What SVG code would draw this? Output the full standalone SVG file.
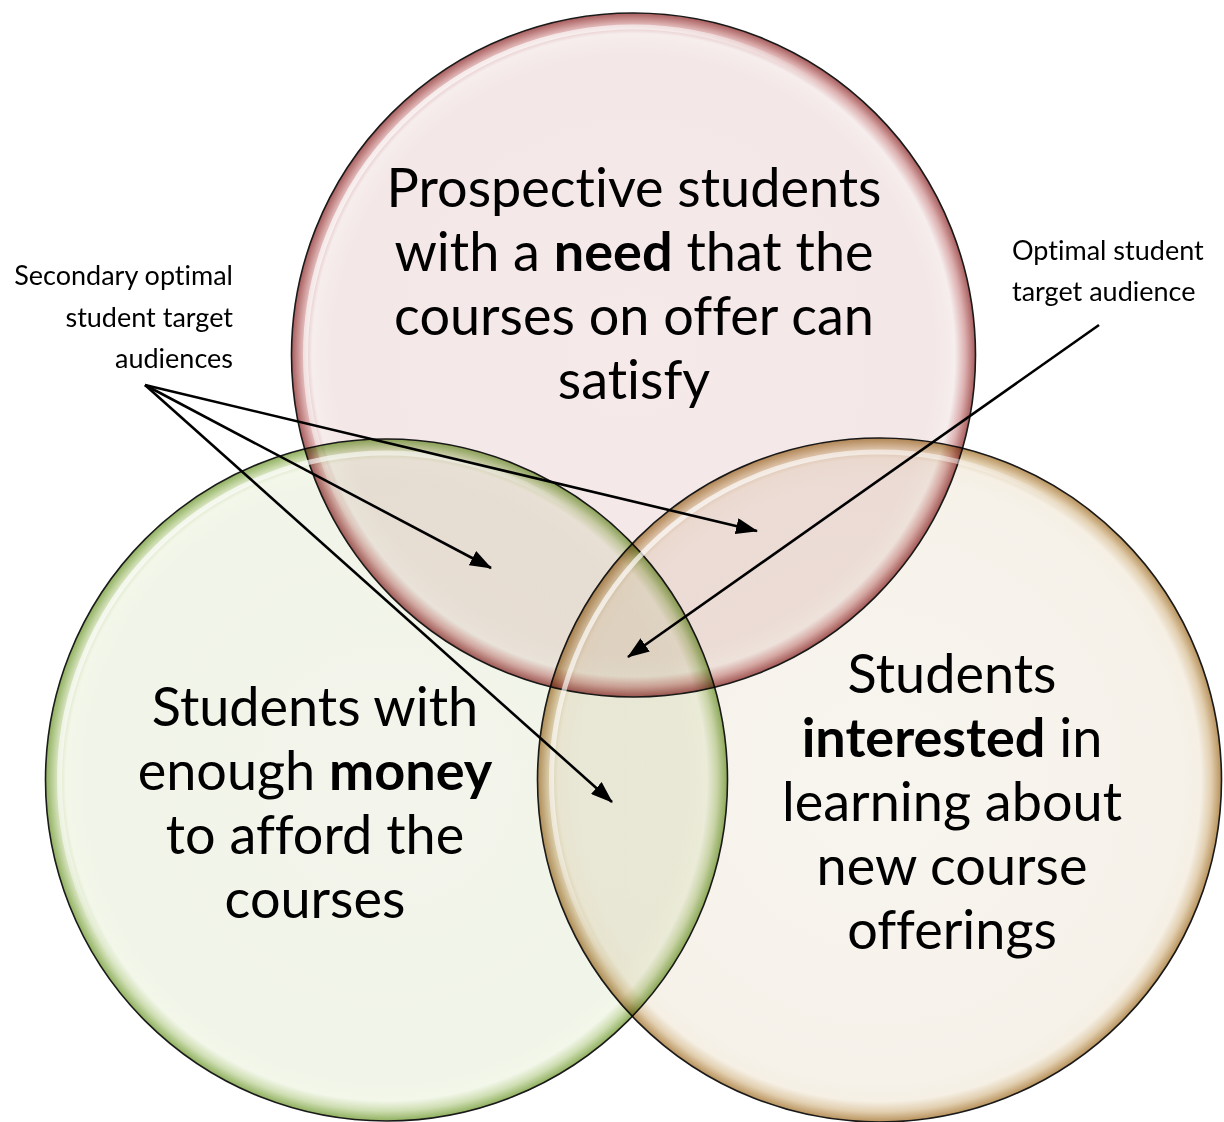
<svg xmlns="http://www.w3.org/2000/svg" width="1224" height="1122" viewBox="0 0 1224 1122">
<style>
.big{font-family:Lato,"Open Sans","Liberation Sans",sans-serif;font-size:54px;fill:#000;text-anchor:middle;font-variant-ligatures:none}
.small{font-family:Lato,"Open Sans","Liberation Sans",sans-serif;font-size:27px;fill:#000;font-variant-ligatures:none}
.b{font-weight:bold}
.circ{mix-blend-mode:multiply;stroke:#1a1a1a;stroke-width:1.6}
.hl{fill:none;stroke-width:5}
.con{stroke:#000;stroke-width:2.6;fill:none}
</style>
<defs>
<radialGradient id="gRed">
<stop offset="0" stop-color="#f5e9e9"/>
<stop offset="0.88" stop-color="#f4e7e7"/>
<stop offset="0.94" stop-color="#f6eded"/>
<stop offset="0.97" stop-color="#ddb0b0"/>
<stop offset="1" stop-color="#a85c5c"/>
</radialGradient>
<radialGradient id="gGreen">
<stop offset="0" stop-color="#f3f5ec"/>
<stop offset="0.88" stop-color="#f1f4e8"/>
<stop offset="0.94" stop-color="#f3f7ea"/>
<stop offset="0.97" stop-color="#cfdeb3"/>
<stop offset="1" stop-color="#8fb05e"/>
</radialGradient>
<radialGradient id="gBeige">
<stop offset="0" stop-color="#f8f5ef"/>
<stop offset="0.88" stop-color="#f6f2ea"/>
<stop offset="0.94" stop-color="#f5efe4"/>
<stop offset="0.97" stop-color="#e2cfb0"/>
<stop offset="1" stop-color="#b8925c"/>
</radialGradient>
<linearGradient id="gHl" x1="0" y1="0" x2="1" y2="1">
<stop offset="0" stop-color="#fff" stop-opacity="0.9"/>
<stop offset="0.3" stop-color="#fff" stop-opacity="0.5"/>
<stop offset="0.45" stop-color="#fff" stop-opacity="0"/>
</linearGradient>
<marker id="ah" markerUnits="userSpaceOnUse" markerWidth="22" markerHeight="16" refX="21" refY="8" orient="auto">
<path d="M0,0 L22,8 L0,16 z" fill="#000"/>
</marker>
</defs>
<rect width="1224" height="1122" fill="#fff"/>
<g id="circle-need">
<circle class="circ" cx="633.5" cy="355" r="342" fill="url(#gRed)"/>
<circle class="hl" cx="633.5" cy="355" r="328" stroke="url(#gHl)"/>
</g>
<g id="circle-money">
<circle class="circ" cx="386.5" cy="780" r="341" fill="url(#gGreen)"/>
<circle class="hl" cx="386.5" cy="780" r="327" stroke="url(#gHl)"/>
</g>
<g id="circle-interest">
<circle class="circ" cx="879.5" cy="780" r="342" fill="url(#gBeige)"/>
<circle class="hl" cx="879.5" cy="780" r="328" stroke="url(#gHl)"/>
</g>
<g id="text-need">
<text class="big" x="634" y="207">Prospective students</text>
<text class="big" x="634" y="271">with a <tspan class="b">need</tspan> that the</text>
<text class="big" x="634" y="335">courses on offer can</text>
<text class="big" x="634" y="399">satisfy</text>
</g>
<g id="text-money">
<text class="big" x="315" y="726">Students with</text>
<text class="big" x="315" y="790">enough <tspan class="b">money</tspan></text>
<text class="big" x="315" y="854">to afford the</text>
<text class="big" x="315" y="918">courses</text>
</g>
<g id="text-interest">
<text class="big" x="952" y="693">Students</text>
<text class="big" x="952" y="757"><tspan class="b">interested</tspan> in</text>
<text class="big" x="952" y="821">learning about</text>
<text class="big" x="952" y="885">new course</text>
<text class="big" x="952" y="949">offerings</text>
</g>
<g id="label-secondary">
<text class="small" x="233" y="285" text-anchor="end">Secondary optimal</text>
<text class="small" x="233" y="327" text-anchor="end">student target</text>
<text class="small" x="233" y="368" text-anchor="end">audiences</text>
</g>
<g id="label-optimal">
<text class="small" x="1012" y="260">Optimal student</text>
<text class="small" x="1012" y="301">target audience</text>
</g>
<g id="connectors">
<line class="con" x1="145" y1="385" x2="757" y2="531" marker-end="url(#ah)"/>
<line class="con" x1="145" y1="385" x2="491" y2="568" marker-end="url(#ah)"/>
<line class="con" x1="145" y1="385" x2="612" y2="802" marker-end="url(#ah)"/>
<line class="con" x1="1099" y1="325" x2="628" y2="657" marker-end="url(#ah)"/>
</g>
</svg>
